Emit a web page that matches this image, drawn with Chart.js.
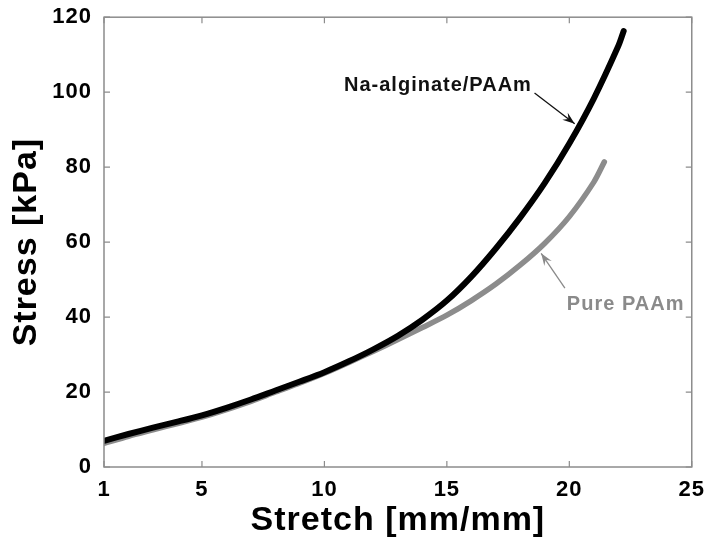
<!DOCTYPE html>
<html lang="en">
<head>
    <meta charset="UTF-8">
    <title>Stress vs Stretch</title>
    <script src="https://cdn.jsdelivr.net/npm/chart.js"></script>
    <style>
        html, body { margin: 0; padding: 0; background: #fff; }
        #wrap { width: 707px; height: 541px; }
    </style>
</head>
<body>
<div id="wrap"><canvas id="stressChart" width="707" height="541"></canvas></div>

<script>
// values
const alginateStretch = [1, 2, 3, 4, 5, 6, 7, 8, 9, 10, 11, 12, 13, 14, 15, 16, 17, 18, 19, 20, 21, 22, 22.22];
const alginateStress  = [7, 8.8, 10.5, 12.1, 13.8, 15.8, 18, 20.4, 22.8, 25.3, 28.2, 31.4, 35, 39.3, 44.4, 50.8, 58.3, 66.6, 75.8, 86.3, 98.3, 112.3, 116.3];
const paamStretch = [1, 2, 3, 4, 5, 6, 7, 8, 9, 10, 11, 12, 13, 14, 15, 16, 17, 18, 19, 20, 21, 21.43];
const paamStress  = [6.3, 8.2, 9.9, 11.6, 13.3, 15.3, 17.5, 20, 22.4, 25, 27.9, 30.9, 34, 37.2, 40.5, 44.4, 48.8, 53.9, 59.7, 66.8, 76, 81.4];
const xTicks = [1, 5, 10, 15, 20, 25];
const yTicks = [0, 20, 40, 60, 80, 100, 120];

const FONT = "'Liberation Sans', Arial, sans-serif";

function toPoints(xs, ys) {
    return xs.map((x, i) => ({ x: x, y: ys[i] }));
}

// labels with arrows, anchored in data units
const notes = [
    { text: "Na-alginate/PAAm", color: "#111", at: [10.8, 100.2], from: [18.58, 99.8], to: [20.22, 91.6] },
    { text: "Pure PAAm", color: "#8a8a8a", at: [19.9, 42.0], from: [19.82, 47.7], to: [18.85, 57.0] }
];

const boxAndTicks = {
    id: 'boxAndTicks',
    beforeUpdate(chart) { chart.ctx.letterSpacing = '1px'; },
    afterDatasetsDraw(chart) {
        const ctx = chart.ctx, a = chart.chartArea;
        const xs = chart.scales.x, ys = chart.scales.y;
        ctx.save();
        ctx.strokeStyle = '#8c8c8c';
        ctx.lineWidth = 1.5;
        ctx.strokeRect(a.left, a.top, a.right - a.left, a.bottom - a.top);
        ctx.lineWidth = 1.2;
        ctx.beginPath();
        xTicks.forEach(v => {
            const px = xs.getPixelForValue(v);
            ctx.moveTo(px, a.bottom); ctx.lineTo(px, a.bottom - 6);
            ctx.moveTo(px, a.top); ctx.lineTo(px, a.top + 6);
        });
        yTicks.forEach(v => {
            const py = ys.getPixelForValue(v);
            ctx.moveTo(a.left, py); ctx.lineTo(a.left + 6, py);
            ctx.moveTo(a.right, py); ctx.lineTo(a.right - 6, py);
        });
        ctx.stroke();

        notes.forEach(n => {
            ctx.fillStyle = n.color;
            ctx.strokeStyle = n.color;
            ctx.font = "bold 20px " + FONT;
            ctx.textBaseline = 'alphabetic';
            ctx.fillText(n.text, xs.getPixelForValue(n.at[0]), ys.getPixelForValue(n.at[1]));
            const x1 = xs.getPixelForValue(n.from[0]), y1 = ys.getPixelForValue(n.from[1]);
            const x2 = xs.getPixelForValue(n.to[0]), y2 = ys.getPixelForValue(n.to[1]);
            ctx.lineWidth = 1.3;
            ctx.beginPath(); ctx.moveTo(x1, y1); ctx.lineTo(x2, y2); ctx.stroke();
            const ang = Math.atan2(y2 - y1, x2 - x1), len = 13, w = 0.35;
            ctx.beginPath();
            ctx.moveTo(x2, y2);
            ctx.lineTo(x2 - len * Math.cos(ang - w), y2 - len * Math.sin(ang - w));
            ctx.lineTo(x2 - len * 0.6 * Math.cos(ang), y2 - len * 0.6 * Math.sin(ang));
            ctx.lineTo(x2 - len * Math.cos(ang + w), y2 - len * Math.sin(ang + w));
            ctx.closePath();
            ctx.fill();
        });
        ctx.restore();
    }
};

new Chart(document.getElementById("stressChart"), {
    type: 'line',
    data: {
        datasets: [
            {
                label: 'Na-alginate/PAAm',
                data: toPoints(alginateStretch, alginateStress),
                borderColor: '#000',
                borderWidth: 6,
                borderCapStyle: 'round',
                pointRadius: 0,
                tension: 0.3
            },
            {
                label: 'Pure PAAm',
                data: toPoints(paamStretch, paamStress),
                borderColor: '#8c8c8c',
                borderWidth: 5.5,
                borderCapStyle: 'round',
                pointRadius: 0,
                tension: 0.3
            }
        ]
    },
    options: {
        responsive: false,
        animation: false,
        layout: { padding: { top: 14, right: 10, left: 6, bottom: 0 } },
        plugins: { legend: { display: false }, tooltip: { enabled: false } },
        scales: {
            x: {
                type: 'linear',
                min: 1, max: 25,
                afterBuildTicks: s => { s.ticks = xTicks.map(v => ({ value: v })); },
                afterFit: s => { s.height = 74; },
                grid: { display: false },
                border: { display: false },
                ticks: { color: '#000', padding: 2, font: { family: FONT, size: 22, weight: 'bold' }, maxRotation: 0 },
                title: { display: true, text: 'Stretch [mm/mm]', color: '#000', padding: { top: 0, bottom: 0 },
                         font: { family: FONT, size: 34, weight: 'bold' } }
            },
            y: {
                min: 0, max: 120,
                afterBuildTicks: s => { s.ticks = yTicks.map(v => ({ value: v })); },
                afterFit: s => { s.width = 98; },
                grid: { display: false },
                border: { display: false },
                ticks: { color: '#000', padding: 4, font: { family: FONT, size: 22, weight: 'bold' } },
                title: { display: true, text: 'Stress [kPa]', color: '#000', padding: { top: 0, bottom: 4 },
                         font: { family: FONT, size: 34, weight: 'bold' } }
            }
        }
    },
    plugins: [boxAndTicks]
});
</script>
</body>
</html>
